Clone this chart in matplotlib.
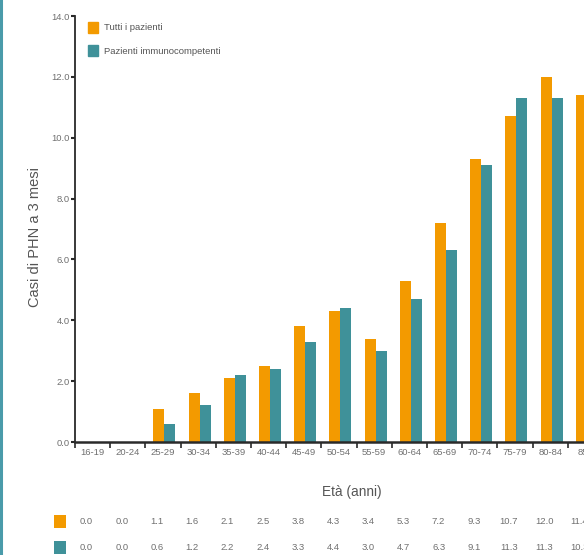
import numpy as np
import matplotlib
matplotlib.use("Agg")
import matplotlib.pyplot as plt
from matplotlib.patches import Patch, Rectangle
from matplotlib.lines import Line2D
from matplotlib.transforms import blended_transform_factory

plt.rcParams['font.family'] = ['Liberation Sans', 'DejaVu Sans']

# Age bands and 3-month PHN cases per group
age_groups = ["16-19", "20-24", "25-29", "30-34", "35-39", "40-44", "45-49", "50-54",
              "55-59", "60-64", "65-69", "70-74", "75-79", "80-84", "85+"]
tutti = [0.0, 0.0, 1.1, 1.6, 2.1, 2.5, 3.8, 4.3, 3.4, 5.3, 7.2, 9.3, 10.7, 12.0, 11.4]
immuno = [0.0, 0.0, 0.6, 1.2, 2.2, 2.4, 3.3, 4.4, 3.0, 4.7, 6.3, 9.1, 11.3, 11.3, 10.3]
series_labels = ["Tutti i pazienti", "Pazienti immunocompetenti"]
y_ticks = [0, 2, 4, 6, 8, 10, 12, 14]

ORANGE = "#F39A00"
TEAL = "#3F9199"
TXT = "#707070"
AX = "#2a2a2a"

W, H = 584, 555
fig = plt.figure(figsize=(W / 100, H / 100), dpi=100)
ax = fig.add_axes([75 / W, 113 / H, 528 / W, 426 / H])

x = np.arange(len(age_groups))
bw = 0.31
ax.bar(x - bw / 2 + 0.04, tutti, width=bw, color=ORANGE, linewidth=0)
ax.bar(x + bw / 2 + 0.04, immuno, width=bw, color=TEAL, linewidth=0)

ax.set_xlim(-0.5, len(age_groups) - 0.5)
ax.set_ylim(0, 14)

for s in ["top", "right"]:
    ax.spines[s].set_visible(False)
ax.spines["left"].set_color(AX)
ax.spines["left"].set_linewidth(1.3)
ax.spines["bottom"].set_color(AX)
ax.spines["bottom"].set_linewidth(1.8)

ax.set_yticks(y_ticks)
ax.set_yticklabels([f"{v:.1f}" for v in y_ticks], fontsize=6.8, color=TXT)
ax.tick_params(axis="y", length=3, width=1.5, color=AX, pad=1)

# category boundaries carry the ticks, labels sit at the centres
ax.set_xticks(np.arange(len(age_groups) + 1) - 0.5)
ax.set_xticklabels([])
ax.tick_params(axis="x", which="major", length=4, width=1.2, color=AX)
ax.set_xticks(x, minor=True)
ax.set_xticklabels(age_groups, minor=True, fontsize=6.8, color=TXT)
ax.tick_params(axis="x", which="minor", length=0, pad=4)

# axis titles
fig.text(35 / W, 1 - 237 / H, "Casi di PHN a 3 mesi", rotation=90, ha="center",
         va="center", fontsize=10.5, color="#555555")
fig.text(352 / W, 1 - 492 / H, "Età (anni)", ha="center", va="center",
         fontsize=9.8, color="#555555")

# legend
leg = ax.legend(handles=[Patch(color=ORANGE, label=series_labels[0]),
                         Patch(color=TEAL, label=series_labels[1])],
                loc="upper left", bbox_to_anchor=(83 / W, 1 - 17 / H),
                bbox_transform=fig.transFigure, frameon=False, fontsize=6.8,
                handlelength=1.1, handleheight=1.4, handletextpad=0.6,
                labelspacing=1.35, borderpad=0)
for t in leg.get_texts():
    t.set_color("#555555")

# data table below the chart
trans = blended_transform_factory(ax.transData, fig.transFigure)
rows = [(tutti, ORANGE, 521), (immuno, TEAL, 547)]
for vals, col, ypix in rows:
    yc = 1 - ypix / H
    fig.add_artist(Rectangle((54 / W, yc - 6.5 / H), 12 / W, 13 / H,
                             transform=fig.transFigure, color=col, lw=0))
    for xi, v in zip(x, vals):
        ax.text(xi - 0.17, yc, f"{v:.1f}", transform=trans, ha="center",
                va="center", fontsize=6.8, color=TXT, clip_on=False)

# frame line on the left edge
fig.add_artist(Line2D([1.2 / W, 1.2 / W], [0, 1], transform=fig.transFigure,
                      color="#4A9BAA", lw=2.2))

fig.savefig("out.png", dpi=100)
